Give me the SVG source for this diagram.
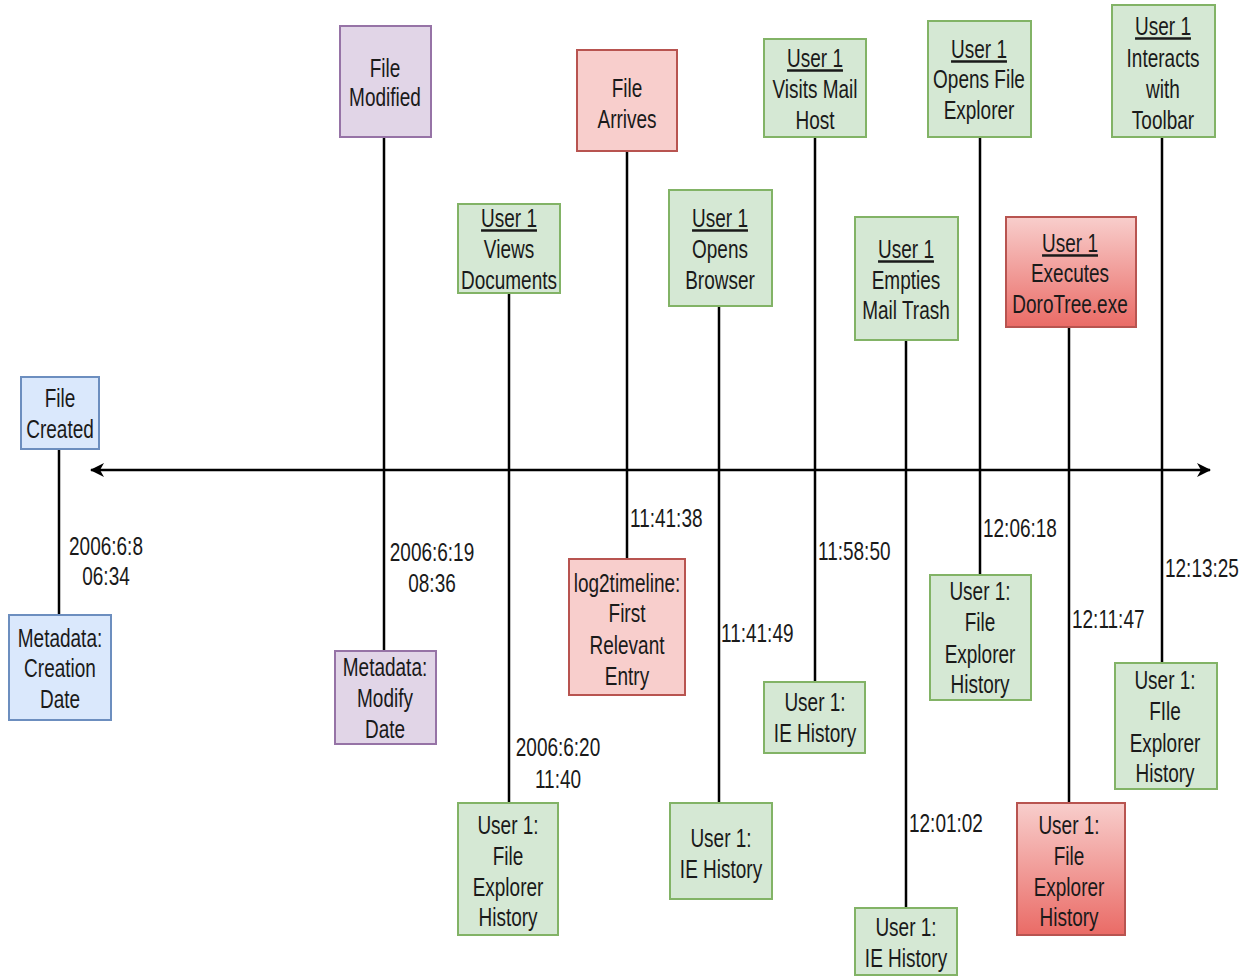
<svg xmlns="http://www.w3.org/2000/svg" width="1248" height="976" viewBox="0 0 1248 976">
<defs>
<linearGradient id="redg" x1="0" y1="0" x2="0" y2="1"><stop offset="0" stop-color="#f8cecc"/><stop offset="1" stop-color="#ea6b66"/></linearGradient>
<marker id="arr" viewBox="0 0 14 16" refX="13" refY="8" markerWidth="14" markerHeight="16" markerUnits="userSpaceOnUse" orient="auto-start-reverse"><path d="M0,1 L14,8 L0,15 L4,8 Z" fill="#000"/></marker>
<style>
text{font-family:"Liberation Sans",Arial,sans-serif;font-size:25px;fill:#1a1a1a}
.c{text-anchor:middle}
.u{text-decoration:underline}
.blue{fill:#dae8fc;stroke:#6c8ebf;stroke-width:2}
.purp{fill:#e1d5e7;stroke:#9673a6;stroke-width:2}
.green{fill:#d5e8d4;stroke:#82b366;stroke-width:2}
.red{fill:#f8cecc;stroke:#b85450;stroke-width:2}
.redg{fill:url(#redg);stroke:#b85450;stroke-width:2}
.ln{stroke:#000;stroke-width:2.5;fill:none}
</style>
</defs>
<rect width="1248" height="976" fill="#fff"/>
<g id="connectors">
<line class="ln" x1="59" y1="449" x2="59" y2="615"/>
<line class="ln" x1="384" y1="137" x2="384" y2="651"/>
<line class="ln" x1="509" y1="293" x2="509" y2="803"/>
<line class="ln" x1="627" y1="151" x2="627" y2="559"/>
<line class="ln" x1="719" y1="306" x2="719" y2="803"/>
<line class="ln" x1="815" y1="137" x2="815" y2="682"/>
<line class="ln" x1="906" y1="340" x2="906" y2="908"/>
<line class="ln" x1="980" y1="137" x2="980" y2="575"/>
<line class="ln" x1="1069" y1="327" x2="1069" y2="803"/>
<line class="ln" x1="1162" y1="137" x2="1162" y2="663"/>
<line id="axis" class="ln" x1="91" y1="470" x2="1210" y2="470" marker-start="url(#arr)" marker-end="url(#arr)"/>
<g id="edge-labels">
<g transform="translate(106,0) scale(0.76,1)"><text class="c" y="555">2006:6:8</text><text class="c" y="585">06:34</text></g>
<g transform="translate(432,0) scale(0.76,1)"><text class="c" y="561">2006:6:19</text><text class="c" y="592">08:36</text></g>
<g transform="translate(558,0) scale(0.76,1)"><text class="c" y="756">2006:6:20</text><text class="c" y="788">11:40</text></g>
<g transform="translate(630,0) scale(0.76,1)"><text y="527">11:41:38</text></g>
<g transform="translate(721,0) scale(0.76,1)"><text y="642">11:41:49</text></g>
<g transform="translate(818,0) scale(0.76,1)"><text y="560">11:58:50</text></g>
<g transform="translate(909,0) scale(0.76,1)"><text y="832">12:01:02</text></g>
<g transform="translate(983,0) scale(0.76,1)"><text y="537">12:06:18</text></g>
<g transform="translate(1072,0) scale(0.76,1)"><text y="628">12:11:47</text></g>
<g transform="translate(1165,0) scale(0.76,1)"><text y="577">12:13:25</text></g>
</g>
</g>
<g id="n1"><rect class="blue" x="21" y="377" width="78" height="72"/><g transform="translate(60,0) scale(0.76,1)"><text class="c" y="407">File</text><text class="c" y="438">Created</text></g></g>
<g id="n2"><rect class="blue" x="9" y="615" width="102" height="105"/><g transform="translate(60,0) scale(0.76,1)"><text class="c" y="647">Metadata:</text><text class="c" y="677">Creation</text><text class="c" y="708">Date</text></g></g>
<g id="n3"><rect class="purp" x="340" y="26" width="91" height="111"/><g transform="translate(385,0) scale(0.76,1)"><text class="c" y="77">File</text><text class="c" y="106">Modified</text></g></g>
<g id="n4"><rect class="purp" x="335" y="651" width="101" height="93"/><g transform="translate(385,0) scale(0.76,1)"><text class="c" y="676">Metadata:</text><text class="c" y="707">Modify</text><text class="c" y="738">Date</text></g></g>
<g id="n5"><rect class="green" x="458" y="204" width="102" height="89"/><g transform="translate(509,0) scale(0.76,1)"><text class="c u" y="227">User 1</text><text class="c" y="258">Views</text><text class="c" y="289">Documents</text></g></g>
<g id="n6"><rect class="green" x="458" y="803" width="100" height="132"/><g transform="translate(508,0) scale(0.76,1)"><text class="c" y="834">User 1:</text><text class="c" y="865">File</text><text class="c" y="896">Explorer</text><text class="c" y="926">History</text></g></g>
<g id="n7"><rect class="red" x="577" y="50" width="100" height="101"/><g transform="translate(627,0) scale(0.76,1)"><text class="c" y="97">File</text><text class="c" y="128">Arrives</text></g></g>
<g id="n8"><rect class="red" x="569" y="559" width="116" height="136"/><g transform="translate(627,0) scale(0.76,1)"><text class="c" y="592">log2timeline:</text><text class="c" y="622">First</text><text class="c" y="654">Relevant</text><text class="c" y="685">Entry</text></g></g>
<g id="n9"><rect class="green" x="669" y="190" width="103" height="116"/><g transform="translate(720,0) scale(0.76,1)"><text class="c u" y="227">User 1</text><text class="c" y="258">Opens</text><text class="c" y="289">Browser</text></g></g>
<g id="n10"><rect class="green" x="670" y="803" width="102" height="96"/><g transform="translate(721,0) scale(0.76,1)"><text class="c" y="847">User 1:</text><text class="c" y="878">IE History</text></g></g>
<g id="n11"><rect class="green" x="764" y="39" width="102" height="98"/><g transform="translate(815,0) scale(0.76,1)"><text class="c u" y="67">User 1</text><text class="c" y="98">Visits Mail</text><text class="c" y="129">Host</text></g></g>
<g id="n12"><rect class="green" x="764" y="682" width="101" height="71"/><g transform="translate(815,0) scale(0.76,1)"><text class="c" y="711">User 1:</text><text class="c" y="742">IE History</text></g></g>
<g id="n13"><rect class="green" x="855" y="217" width="103" height="123"/><g transform="translate(906,0) scale(0.76,1)"><text class="c u" y="258">User 1</text><text class="c" y="289">Empties</text><text class="c" y="319">Mail Trash</text></g></g>
<g id="n14"><rect class="green" x="855" y="908" width="102" height="67"/><g transform="translate(906,0) scale(0.76,1)"><text class="c" y="936">User 1:</text><text class="c" y="967">IE History</text></g></g>
<g id="n15"><rect class="green" x="928" y="21" width="103" height="116"/><g transform="translate(979,0) scale(0.76,1)"><text class="c u" y="58">User 1</text><text class="c" y="88">Opens File</text><text class="c" y="119">Explorer</text></g></g>
<g id="n16"><rect class="green" x="930" y="575" width="101" height="125"/><g transform="translate(980,0) scale(0.76,1)"><text class="c" y="600">User 1:</text><text class="c" y="631">File</text><text class="c" y="663">Explorer</text><text class="c" y="693">History</text></g></g>
<g id="n17"><rect class="redg" x="1006" y="217" width="130" height="110"/><g transform="translate(1070,0) scale(0.76,1)"><text class="c u" y="252">User 1</text><text class="c" y="282">Executes</text><text class="c" y="313">DoroTree.exe</text></g></g>
<g id="n18"><rect class="redg" x="1017" y="803" width="108" height="132"/><g transform="translate(1069,0) scale(0.76,1)"><text class="c" y="834">User 1:</text><text class="c" y="865">File</text><text class="c" y="896">Explorer</text><text class="c" y="926">History</text></g></g>
<g id="n19"><rect class="green" x="1112" y="5" width="103" height="132"/><g transform="translate(1163,0) scale(0.76,1)"><text class="c u" y="35">User 1</text><text class="c" y="67">Interacts</text><text class="c" y="98">with</text><text class="c" y="129">Toolbar</text></g></g>
<g id="n20"><rect class="green" x="1115" y="663" width="102" height="126"/><g transform="translate(1165,0) scale(0.76,1)"><text class="c" y="689">User 1:</text><text class="c" y="720">FIle</text><text class="c" y="752">Explorer</text><text class="c" y="782">History</text></g></g>
</svg>
